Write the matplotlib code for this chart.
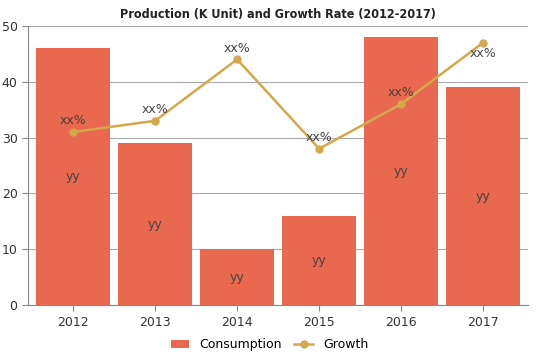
import matplotlib.pyplot as plt
import numpy as np

years = ['2012', '2013', '2014', '2015', '2016', '2017']
consumption = [46, 29, 10, 16, 48, 39]
growth = [31, 33, 44, 28, 36, 47]
bar_labels = ['yy'] * 6
growth_labels = ['xx%'] * 6

bar_color = '#E8694F'
line_color = '#D4A84B'

fig = plt.figure(figsize=(5.39, 3.59), dpi=100)
ax = fig.add_axes([0.052, 0.150, 0.928, 0.778])

x = np.arange(len(years))
bars = ax.bar(x, consumption, width=0.9, color=bar_color, label='Consumption', zorder=2)
line, = ax.plot(x, growth, color=line_color, marker='o', markersize=5, linewidth=1.8,
                label='Growth', zorder=3)

# labels inside bars and above points
for i in range(len(years)):
    ax.text(x[i], consumption[i] / 2, bar_labels[i], ha='center', va='center',
            fontsize=9, color='#444444', zorder=4)
    dy = -2 if i == len(years) - 1 else 2
    ax.text(x[i], growth[i] + dy, growth_labels[i], ha='center', va='center',
            fontsize=9, color='#444444', zorder=4)

ax.set_xlim(-0.55, 5.55)
ax.set_ylim(0, 50)
ax.set_xticks(x)
ax.set_xticklabels(years)
ax.set_yticks([0, 10, 20, 30, 40, 50])
ax.tick_params(axis='both', labelsize=9, colors='#333333', length=4)
ax.tick_params(axis='both', color='#888888')
ax.yaxis.grid(True, color='#AAAAAA', linewidth=0.8, zorder=0)

for s in ['top', 'right']:
    ax.spines[s].set_visible(False)
ax.spines['left'].set_color('#888888')
ax.spines['bottom'].set_color('#888888')

ax.set_title('Production (K Unit) and Growth Rate (2012-2017)', fontsize=9,
             fontweight='bold', color='#222222', pad=6, family='DejaVu Sans',
             fontstretch='condensed')

fig.legend([bars, line], ['Consumption', 'Growth'], loc='lower center', ncol=2,
           frameon=False, fontsize=9, bbox_to_anchor=(0.5, -0.01),
           handlelength=1.5, columnspacing=1)

plt.savefig('out.png', dpi=100)
